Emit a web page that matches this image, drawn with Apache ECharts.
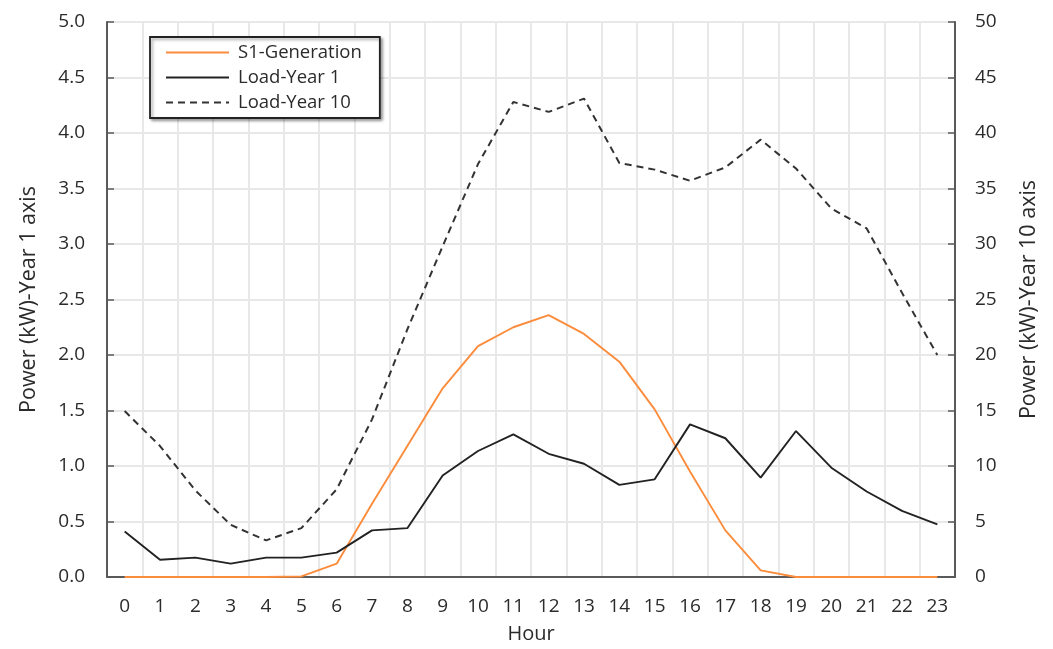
<!DOCTYPE html>
<html>
<head>
<meta charset="utf-8">
<script src="https://cdn.jsdelivr.net/npm/echarts@6/dist/echarts.min.js"></script>
<style>
html,body{margin:0;padding:0;background:#fff;}
#c{width:1053px;height:649px;}
</style>
</head>
<body>
<div id="c"></div>
<script>
const hours = ['0','1','2','3','4','5','6','7','8','9','10','11','12','13','14','15','16','17','18','19','20','21','22','23'];
const s1Generation = [0,0,0,0,0,0.005,0.12,0.66,1.18,1.70,2.08,2.25,2.36,2.19,1.94,1.51,0.95,0.42,0.06,0,0,0,0,0];
const loadYear1 = [0.41,0.155,0.175,0.12,0.175,0.175,0.22,0.42,0.44,0.915,1.135,1.285,1.11,1.02,0.83,0.88,1.375,1.25,0.895,1.315,0.985,0.77,0.595,0.475];
const loadYear10 = [14.95,11.8,7.8,4.7,3.3,4.4,7.9,14.2,22.3,29.8,37.2,42.8,41.9,43.1,37.3,36.7,35.7,36.9,39.4,36.8,33.2,31.4,25.6,20.0];
const leftTicks = {min:0,max:5,interval:0.5};
const rightTicks = {min:0,max:50,interval:5};

const font = 'Open Sans';
const txt = '#2b2b2b';
const axisCol = '#5a5a5a';
const gridCol = '#e8e8e8';

const chart = echarts.init(document.getElementById('c'));
chart.setOption({
  animation:false,
  textStyle:{fontFamily:font},
  grid:{left:107,right:98,top:22,bottom:72},
  legend:{
    orient:'vertical',left:150,top:37,
    backgroundColor:'#fff',
    borderColor:'#222',borderWidth:1.8,
    padding:[6,18,6,15],
    itemGap:6,itemWidth:63,itemHeight:14,
    textStyle:{fontFamily:font,fontSize:18.5,color:txt,padding:[0,0,0,4]},
    itemStyle:{opacity:0},
    data:['S1-Generation','Load-Year 1','Load-Year 10'],
    shadowColor:'rgba(0,0,0,0.35)',shadowBlur:3,shadowOffsetX:2,shadowOffsetY:2
  },
  xAxis:{
    type:'category',data:hours,boundaryGap:true,
    name:'Hour',nameLocation:'middle',nameGap:47,
    nameTextStyle:{fontFamily:font,fontSize:20,color:txt},
    axisLine:{lineStyle:{color:axisCol,width:2}},
    axisTick:{show:false},
    axisLabel:{fontFamily:font,fontSize:19,color:txt,margin:20},
    splitLine:{show:true,lineStyle:{color:gridCol,width:2}}
  },
  yAxis:[{
    type:'value',min:leftTicks.min,max:leftTicks.max,interval:leftTicks.interval,
    name:'Power (kW)-Year 1 axis',nameLocation:'middle',nameGap:67,
    nameTextStyle:{fontFamily:font,fontSize:21.5,color:txt},
    axisLine:{show:true,lineStyle:{color:axisCol,width:2}},
    axisTick:{show:true,inside:true,length:7,lineStyle:{color:axisCol,width:1.5}},
    axisLabel:{fontFamily:font,fontSize:19,color:txt,margin:22,formatter:v=>v.toFixed(1)},
    splitLine:{show:true,lineStyle:{color:gridCol,width:2}}
  },{
    type:'value',min:rightTicks.min,max:rightTicks.max,interval:rightTicks.interval,position:'right',
    name:'Power (kW)-Year 10 axis',nameLocation:'middle',nameGap:63,nameRotate:90,
    nameTextStyle:{fontFamily:font,fontSize:21.5,color:txt},
    axisLine:{show:true,lineStyle:{color:axisCol,width:2}},
    axisTick:{show:true,inside:true,length:7,lineStyle:{color:axisCol,width:1.5}},
    axisLabel:{fontFamily:font,fontSize:19,color:txt,margin:20},
    splitLine:{show:false}
  }],
  series:[{
    name:'S1-Generation',type:'line',data:s1Generation,yAxisIndex:0,
    symbol:'none',lineStyle:{color:'#fb8c3c',width:1.9},itemStyle:{color:'#fb8c3c'},z:3
  },{
    name:'Load-Year 1',type:'line',data:loadYear1,yAxisIndex:0,
    symbol:'none',lineStyle:{color:'#222',width:1.9},itemStyle:{color:'#222'},z:4
  },{
    name:'Load-Year 10',type:'line',data:loadYear10,yAxisIndex:1,
    symbol:'none',lineStyle:{color:'#333',width:2,type:[7,5]},itemStyle:{color:'#333'},z:2
  }]
});
</script>
</body>
</html>
